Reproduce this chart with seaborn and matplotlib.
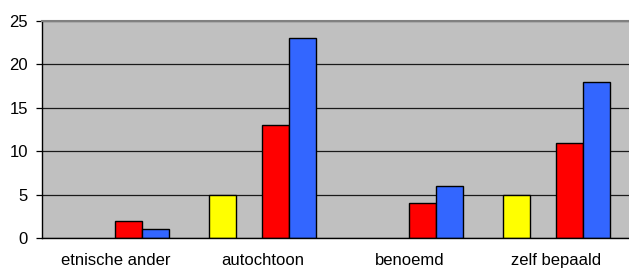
import numpy as np
import pandas as pd
import matplotlib
matplotlib.use("Agg")
import matplotlib.pyplot as plt
import seaborn as sns

categories = ["etnische ander", "autochtoon", "benoemd", "zelf bepaald"]
series_names = ["reeks1", "reeks2", "reeks3", "reeks4"]
reeks1 = [np.nan, 5, np.nan, 5]      # yellow
reeks2 = [np.nan, np.nan, np.nan, np.nan]  # empty slot
reeks3 = [2, 13, 4, 11]              # red
reeks4 = [1, 23, 6, 18]              # blue
colors = ["#FFFF00", "#C0C0C0", "#FF0000", "#3366FF"]
yticks = [0, 5, 10, 15, 20, 25]

rows = []
for name, vals in zip(series_names, [reeks1, reeks2, reeks3, reeks4]):
    for c, v in zip(categories, vals):
        rows.append({"cat": c, "series": name, "value": v})
df = pd.DataFrame(rows)

sns.set_style("white")
plt.rcParams["font.family"] = ["Liberation Sans", "DejaVu Sans"]

fig = plt.figure(figsize=(6.29, 2.72), dpi=100)
ax = fig.add_axes([42/629, 34/272, 588/629, 217/272])
ax.set_facecolor("#C0C0C0")

sns.barplot(data=df, x="cat", y="value", hue="series", hue_order=series_names,
            order=categories, palette=colors, width=0.728, gap=0,
            edgecolor="black", linewidth=1.0, legend=False, ax=ax,
            errorbar=None, saturation=1)

ax.set_xlim(-0.5, 3.5)
ax.set_ylim(0, 25)
ax.set_yticks(yticks)
ax.set_yticklabels([str(t) for t in yticks], fontsize=12)
ax.yaxis.grid(True, color="#1a1a1a", linewidth=0.9)
ax.set_axisbelow(True)

ax.set_xticks(range(len(categories)))
ax.set_xticklabels(categories, fontsize=12)
ax.set_xticks([-0.5, 0.5, 1.5, 2.5, 3.5], minor=True)
ax.tick_params(axis="x", which="major", length=0, pad=11, labelcolor="black")
ax.tick_params(axis="x", which="minor", length=4, width=0.9, direction="out", color="black")
ax.tick_params(axis="y", length=4, width=0.9, direction="out", color="black", pad=6,
               left=True, labelcolor="black")
ax.set_xlabel("")
ax.set_ylabel("")

for s in ["left", "bottom"]:
    ax.spines[s].set_visible(True)
    ax.spines[s].set_color("black")
    ax.spines[s].set_linewidth(1.0)
ax.spines["top"].set_visible(True)
ax.spines["top"].set_color("#808080")
ax.spines["top"].set_linewidth(1.5)
ax.spines["right"].set_visible(False)

fig.savefig("out.png", dpi=100)
